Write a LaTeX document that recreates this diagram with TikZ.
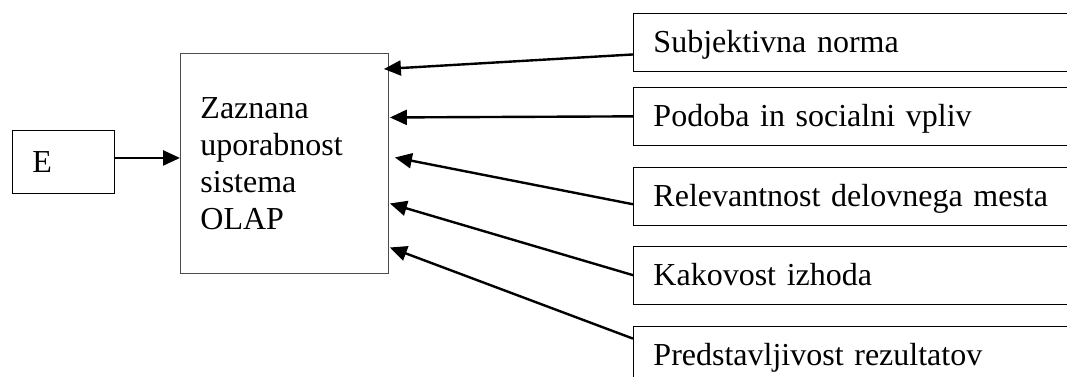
\documentclass[tikz,border=0pt]{standalone}
\usepackage{fontspec}
\setmainfont{Liberation Serif}
\usetikzlibrary{positioning}
\usetikzlibrary{arrows.meta}

\begin{document}
\begin{tikzpicture}
		[x=1pt, y=-1pt,
		 box/.style={draw=black, line width=0.9pt, inner sep=0pt, inner xsep=20pt,
		  font=\fontsize{32pt}{37pt}\selectfont, align=left, anchor=north west},
		 factor/.style={box, minimum width=520pt, minimum height=58pt, text width=480pt,
		  text height=26pt, text depth=6pt},
		 >={Triangle[length=17pt, width=15pt]}, link/.style={->, line width=2.4pt}]
		\path[use as bounding box, clip] (0,0) rectangle (1067,376);

		\node[box, minimum width=102pt, minimum height=63pt, text width=62pt] (e) at (12,130) {E};
		\node[box, draw=black!70, minimum width=208pt, minimum height=220pt, text width=168pt] (olap) at (180,53)
			{Zaznana\\ uporabnost\\ sistema\\ OLAP};

		\node[factor] (norma) at (633,13) {Subjektivna norma};
		\node[factor, below=15pt of norma.south west, anchor=north west] (podoba) {Podoba in socialni vpliv};
		\node[factor, below=21pt of podoba.south west, anchor=north west] (relev) {Relevantnost delovnega mesta};
		\node[factor, below=20pt of relev.south west, anchor=north west] (kakov) {Kakovost izhoda};
		\node[factor, below=21pt of kakov.south west, anchor=north west] (predst) {Predstavljivost rezultatov};

		\coordinate (in1) at ([xshift=-5pt, yshift=-16pt]olap.north east);
		\coordinate (in2) at ([xshift=1pt, yshift=46pt]olap.east);
		\coordinate (in3) at ([xshift=6pt, yshift=6pt]olap.east);
		\coordinate (in4) at ([xshift=1pt, yshift=-40pt]olap.east);
		\coordinate (in5) at ([xshift=1pt, yshift=-84pt]olap.east);

		\draw[link] ([yshift=4pt]e.east) -- ([yshift=4pt]e.east -| olap.west);
		\draw[link] ([yshift=-12pt]norma.west) -- (in1);
		\draw[link] (podoba.west) -- (in2);
		\draw[link] ([yshift=-8pt]relev.west) -- (in3);
		\draw[link] (kakov.west) -- (in4);
		\draw[link] ([yshift=-13pt]predst.north west) -- (in5);
	\end{tikzpicture}
\end{document}
